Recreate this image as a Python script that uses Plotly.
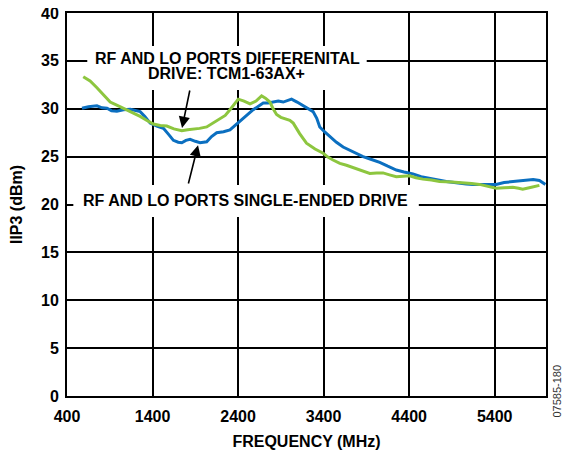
import plotly.graph_objects as go

# single-ended drive (blue)
se_freq = [575, 650, 750, 810, 867, 920, 983, 1060, 1139, 1200, 1255, 1310, 1372, 1450, 1527, 1590, 1644,
           1700, 1742, 1790, 1839, 1900, 1956, 2033, 2090, 2150, 2230, 2305, 2360, 2422, 2500, 2577, 2640,
           2694, 2750, 2811, 2870, 2928, 2970, 3025, 3090, 3160, 3220, 3277, 3320, 3355, 3410, 3472, 3550,
           3628, 3740, 3861, 3960, 4056, 4150, 4250, 4340, 4444, 4540, 4640, 4740, 4834, 4950, 5067, 5150,
           5222, 5320, 5417, 5510, 5612, 5690, 5767, 5850, 5923, 5993]
se_iip3 = [30.05, 30.2, 30.3, 30.1, 30.05, 29.8, 29.75, 29.9, 29.95, 29.85, 29.7, 29.2, 28.5, 28.2, 27.95, 27.3, 26.7,
           26.5, 26.45, 26.7, 26.8, 26.6, 26.45, 26.55, 27.1, 27.5, 27.6, 27.8, 28.2, 28.65, 29.3, 29.9, 30.3,
           30.6, 30.6, 30.7, 30.8, 30.7, 30.85, 31.0, 30.7, 30.3, 30.0, 29.7, 29.0, 28.1, 27.6, 27.1, 26.5,
           26.0, 25.5, 25.0, 24.7, 24.4, 24.0, 23.6, 23.4, 23.2, 22.9, 22.7, 22.55, 22.4, 22.25, 22.15, 22.1,
           22.1, 22.05, 22.1, 22.3, 22.4, 22.5, 22.55, 22.6, 22.5, 22.1]

# differential drive, TCM1-63AX+ (green)
df_freq = [590, 670, 750, 830, 905, 1000, 1100, 1180, 1255, 1330, 1410, 1490, 1567, 1650, 1742, 1810, 1876,
           1950, 2033, 2110, 2190, 2250, 2305, 2360, 2402, 2470, 2540, 2610, 2675, 2720, 2772, 2810, 2850,
           2900, 3005, 3045, 3120, 3200, 3300, 3395, 3450, 3510, 3590, 3667, 3800, 3940, 4020, 4095, 4170,
           4250, 4330, 4405, 4480, 4560, 4660, 4756, 4900, 5030, 5130, 5222, 5320, 5417, 5510, 5612, 5680,
           5728, 5830, 5923]
df_iip3 = [33.35, 32.9, 32.2, 31.4, 30.7, 30.3, 29.9, 29.5, 29.2, 28.8, 28.4, 28.25, 28.2, 27.9, 27.7, 27.8, 27.85,
           27.95, 28.1, 28.5, 28.9, 29.3, 29.9, 30.6, 31.0, 30.8, 30.5, 30.8, 31.35, 31.1, 30.7, 30.0, 29.4,
           29.1, 28.8, 28.5, 27.4, 26.4, 25.8, 25.35, 24.95, 24.65, 24.3, 24.1, 23.7, 23.25, 23.3, 23.3, 23.1,
           22.9, 22.95, 23.0, 22.8, 22.65, 22.55, 22.4, 22.35, 22.3, 22.2, 22.1, 21.9, 21.7, 21.75, 21.8, 21.7,
           21.6, 21.8, 22.0]

x_ticks = [400, 1400, 2400, 3400, 4400, 5400]
y_ticks = [0, 5, 10, 15, 20, 25, 30, 35, 40]

font = "Liberation Sans, Arial, sans-serif"
bold = dict(size=16, color="black", family=font, weight="bold")

fig = go.Figure()
fig.add_trace(go.Scatter(x=se_freq, y=se_iip3, mode="lines", line=dict(color="#0B6FC0", width=3), showlegend=False))
fig.add_trace(go.Scatter(x=df_freq, y=df_iip3, mode="lines", line=dict(color="#8DC63F", width=3), showlegend=False))

# white boxes hiding the grid behind the labels
fig.add_shape(type="rect", x0=637, x1=3904, y0=31.96, y1=36.55, fillcolor="white", line_width=0, layer="between")
fig.add_shape(type="rect", x0=474, x1=4513, y0=18.69, y1=22.04, fillcolor="white", line_width=0, layer="between")

# two lines set separately to keep them tight
fig.add_annotation(x=2276, y=35.2, text="RF AND LO PORTS DIFFERENITAL", showarrow=False, font=bold)
fig.add_annotation(x=2264, y=33.63, text="DRIVE: TCM1-63AX+", showarrow=False, font=bold)
fig.add_annotation(x=2492, y=20.4, text="RF AND LO PORTS SINGLE-ENDED DRIVE",
                   showarrow=False, font=bold)
fig.add_annotation(x=1745, y=28.0, ax=1839, ay=32.06, axref="x", ayref="y", text="",
                   showarrow=True, arrowhead=2, arrowsize=1.4, arrowwidth=1.6, arrowcolor="black")
fig.add_annotation(x=1932, y=26.2, ax=1815, ay=22.04, axref="x", ayref="y", text="",
                   showarrow=True, arrowhead=2, arrowsize=1.4, arrowwidth=1.6, arrowcolor="black")
# figure code, bottom right
fig.add_annotation(x=(556 - 59) / 479, y=-24 / 383, xref="paper", yref="paper", text="07585-180", textangle=-90,
                   showarrow=False, font=dict(size=11, color="#333333", family=font))

fig.update_xaxes(range=[400, 6000], tickvals=x_ticks, showgrid=True, gridcolor="black", gridwidth=1.5,
                 showline=True, linecolor="black", linewidth=2, mirror=True, zeroline=False,
                 ticks="outside", ticklen=5, tickcolor="rgba(0,0,0,0)", automargin=False,
                 ticklabeloverflow="allow",
                 title=dict(text="FREQUENCY (MHz)", font=bold, standoff=12),
                 tickfont=bold)
fig.update_yaxes(range=[0, 40], tickvals=y_ticks, showgrid=True, gridcolor="black", gridwidth=1.5,
                 showline=True, linecolor="black", linewidth=2, mirror=True, zeroline=False,
                 ticks="outside", ticklen=3, tickcolor="rgba(0,0,0,0)", automargin=False,
                 ticklabeloverflow="allow",
                 title=dict(text="IIP3 (dBm)", font=bold, standoff=15),
                 tickfont=bold)
fig.update_layout(width=570, height=453, margin=dict(l=59, r=32, t=5, b=65),
                  plot_bgcolor="white", paper_bgcolor="white",
                  font=dict(family=font, color="black"))
fig.write_html("out.html")
